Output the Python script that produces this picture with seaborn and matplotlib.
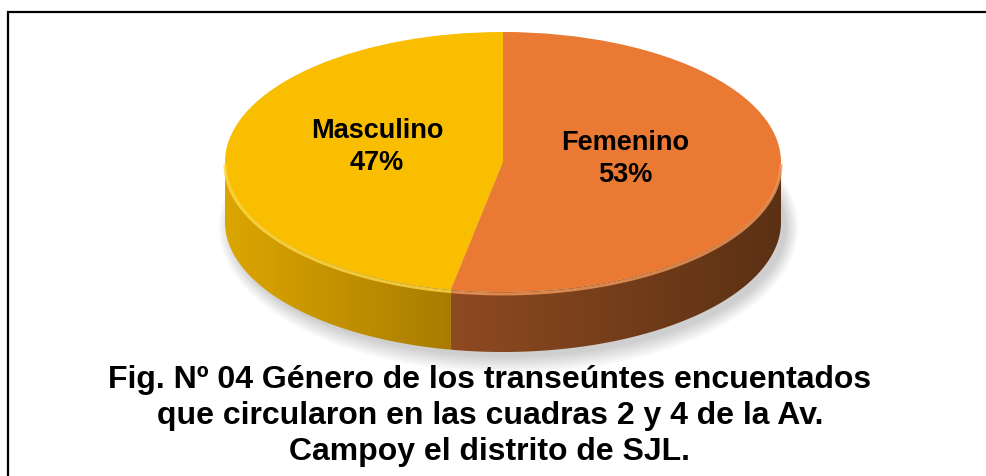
import numpy as np
import matplotlib.pyplot as plt
import seaborn as sns
from matplotlib.patches import Polygon, Ellipse, Rectangle
from matplotlib.colors import LinearSegmentedColormap

# data
labels = ["Masculino", "Femenino"]
values = [47, 53]
top_colors = ["#F9BE00", "#EA7A33"]
side_colors = [("#DCA600", "#A97C00"), ("#8E4A21", "#5B3114")]
title_lines = [
    "Fig. Nº 04 Género de los transeúntes encuentados",
    "que circularon en las cuadras 2 y 4 de la Av.",
    "Campoy el distrito de SJL.",
]

sns.set_theme(style="white")
plt.rcParams["font.family"] = ["Liberation Sans", "DejaVu Sans"]

W, H = 987, 477
fig = plt.figure(figsize=(W / 100, H / 100), dpi=100)
ax = fig.add_axes([0, 0, 1, 1])

# pixel geometry of the pie (top face ellipse)
cx, cy, a, b = 503, 163, 278, 130
depth = 60 / b

# soft shadow just below the pie
for k in range(8):
    ax.add_patch(Ellipse((0.02, -depth - 0.04), 2.0 + 0.012 * k, 2.0 + 0.035 * k,
                         facecolor="#000000", alpha=0.025, lw=0, zorder=0))

# side walls (front half only) with a horizontal gradient
start = 90.0
bounds = []
for v in values:
    end = start + 360.0 * v / sum(values)
    bounds.append((start, end))
    start = end

for (t0, t1), (c_light, c_dark) in zip(bounds, side_colors):
    lo, hi = max(t0, 180.0), min(t1, 360.0)
    if lo >= hi:
        continue
    t = np.radians(np.linspace(lo, hi, 200))
    xs, ys = np.cos(t), np.sin(t)
    pts = np.vstack([np.column_stack([xs, ys]),
                     np.column_stack([xs[::-1], ys[::-1] - depth])])
    poly = Polygon(pts, closed=True, facecolor="none", lw=0, zorder=2)
    ax.add_patch(poly)
    cmap = LinearSegmentedColormap.from_list("side", [c_light, c_dark])
    grad = np.linspace(0, 1, 256).reshape(1, -1)
    im = ax.imshow(grad, cmap=cmap, aspect="auto", zorder=2,
                   extent=[xs.min(), xs.max(), ys.min() - depth, ys.max()])
    im.set_clip_path(poly)

# top face
wedges, _ = ax.pie(values, colors=top_colors, startangle=90, counterclock=True,
                   radius=1, wedgeprops=dict(linewidth=0))
for w in wedges:
    w.set_zorder(3)

# light rim along the front edge of the top face
for (t0, t1), col in zip(bounds, ["#FFD84A", "#F39A5C"]):
    lo, hi = max(t0, 180.0), min(t1, 360.0)
    t = np.radians(np.linspace(lo, hi, 200))
    ax.plot(np.cos(t), np.sin(t) - 0.015, color=col, lw=2.2, alpha=0.8,
            solid_capstyle="butt", zorder=4)

ax.set_aspect("auto")
ax.set_xlim(-cx / a, (W - cx) / a)
ax.set_ylim((cy - H) / b, cy / b)
ax.axis("off")

# slice labels
label_pos = [((377 - cx) / a, (cy - 147) / b), ((625 - cx) / a, (cy - 159) / b)]
for lab, v, (lx, ly) in zip(labels, values, label_pos):
    ax.text(lx, ly, f"{lab}\n{v}%", ha="center", va="center", fontsize=19.5,
            fontweight="bold", color="black", linespacing=1.3, zorder=5)

# caption
for i, line in enumerate(title_lines):
    fig.text(490 / W, 1 - (388 + 36 * i) / H, line, ha="center", va="baseline",
             fontsize=23, fontweight="bold", color="black")

# frame
fig.add_artist(Rectangle((8.5 / W, -0.1), 1.2, 1.1 - 12.5 / H, transform=fig.transFigure,
                         fill=False, edgecolor="black", lw=1.6))

fig.savefig("out.png", dpi=100, facecolor="white")
